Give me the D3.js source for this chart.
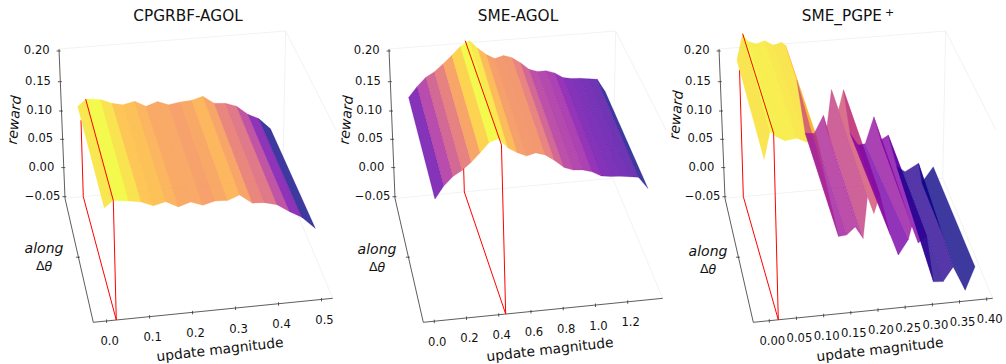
<!DOCTYPE html>
<html>
<head>
<meta charset="utf-8">
<script src="https://cdnjs.cloudflare.com/ajax/libs/d3/7.8.5/d3.min.js"></script>
<style>
body { margin: 0; background: #fff; }
text { font-family: "DejaVu Sans", sans-serif; fill: #111; }
</style>
</head>
<body>
<div id="chart-area"></div>
<script>
// values
var rewardTicks = [-0.05, 0.00, 0.05, 0.10, 0.15, 0.20];
var rewardTickLabels = ["\u22120.05", "0.00", "0.05", "0.10", "0.15", "0.20"];

// panel 1
var magnitudes1 = [0.001, 0.022, 0.058, 0.087, 0.115, 0.144, 0.173, 0.202, 0.230, 0.259, 0.288, 0.316, 0.345, 0.373, 0.402, 0.431, 0.459, 0.490];
var rewardsBack1 = [0.102, 0.113, 0.110, 0.102, 0.098, 0.102, 0.092, 0.098, 0.091, 0.094, 0.095, 0.100, 0.0865, 0.085, 0.078, 0.063, 0.054, 0.035];
var rewardsFront1 = [0.107, 0.116, 0.113, 0.110, 0.103, 0.107, 0.098, 0.103, 0.097, 0.101, 0.100, 0.106, 0.093, 0.092, 0.0875, 0.076, 0.0665, 0.049];
var ticks1 = [0.0, 0.1, 0.2, 0.3, 0.4, 0.5];
var tickLabels1 = ["0.0", "0.1", "0.2", "0.3", "0.4", "0.5"];

// panel 2
var magnitudes2 = [0.023, 0.080, 0.138, 0.195, 0.253, 0.310, 0.367, 0.425, 0.482, 0.540, 0.597, 0.654, 0.712, 0.769, 0.827, 0.884, 0.941, 0.999, 1.056, 1.114, 1.171, 1.228, 1.286, 1.343];
var rewardsBack2 = [0.117, 0.134, 0.148, 0.156, 0.168, 0.181, 0.195, 0.203, 0.189, 0.177, 0.169, 0.173, 0.168, 0.158, 0.146, 0.141, 0.141, 0.136, 0.127, 0.124, 0.123, 0.121, 0.119, 0.097];
var rewardsFront2 = [0.119, 0.136, 0.148, 0.155, 0.165, 0.177, 0.190, 0.194, 0.180, 0.172, 0.166, 0.169, 0.165, 0.156, 0.145, 0.140, 0.139, 0.135, 0.128, 0.126, 0.125, 0.123, 0.121, 0.104];
var ticks2 = [0.0, 0.2, 0.4, 0.6, 0.8, 1.0, 1.2];
var tickLabels2 = ["0.0", "0.2", "0.4", "0.6", "0.8", "1.0", "1.2"];

// panel 3, the folds are steep so both ends of a strip are read on their own
var magnitudesBack3 = [-0.006, 0.005, 0.016, 0.033, 0.049, 0.066, 0.082, 0.090, 0.113, 0.131, 0.149, 0.167, 0.174, 0.182, 0.197, 0.206, 0.221, 0.238, 0.252, 0.268, 0.283, 0.298, 0.317, 0.334, 0.361, 0.369, 0.391];
var magnitudesFront3 = [-0.002, 0.010, 0.021, 0.037, 0.059, 0.077, 0.089, 0.098, 0.112, 0.131, 0.146, 0.162, 0.176, 0.186, 0.197, 0.209, 0.226, 0.240, 0.259, 0.266, 0.277, 0.293, 0.303, 0.321, 0.340, 0.361, 0.380];
var rewardsBack3 = [0.180, 0.223, 0.209, 0.204, 0.208, 0.199, 0.203, 0.197, 0.137, 0.047, 0.045, 0.074, 0.052, 0.116, 0.081, 0.114, 0.040, 0.019, 0.020, 0.064, 0.024, 0.031, -0.023, -0.033, -0.021, -0.054, -0.029];
var rewardsFront3 = [0.174, 0.212, 0.204, 0.197, 0.199, 0.192, 0.195, 0.191, 0.128, 0.057, 0.058, 0.068, 0.051, 0.108, 0.084, 0.109, 0.052, 0.023, 0.043, 0.061, 0.037, 0.045, -0.019, -0.020, -0.001, -0.035, -0.004];
var ticks3 = [0.00, 0.05, 0.10, 0.15, 0.20, 0.25, 0.30, 0.35, 0.40];
var tickLabels3 = ["0.00", "0.05", "0.10", "0.15", "0.20", "0.25", "0.30", "0.35", "0.40"];

var panels = [
    { title: "CPGRBF-AGOL", dx: 0, ulim: [-0.031, 0.526], uBack: magnitudes1, uFront: magnitudes1,
      zBack: rewardsBack1, zFront: rewardsFront1, ticks: ticks1, labels: tickLabels1,
      red: { backFloor: 0.0158, frontFloor: 0.0225, backTop: 0.021, zBack: 0.113, zFront: 0.116, zHide: 0.078 },
      rewardPos: [15, 120], alongPos: [44, 249] },
    { title: "SME-AGOL", dx: 330, ulim: [-0.068, 1.417], uBack: magnitudes2, uFront: magnitudes2,
      zBack: rewardsBack2, zFront: rewardsFront2, ticks: ticks2, labels: tickLabels2,
      red: { backFloor: 0.405, frontFloor: 0.443, backTop: 0.398, zBack: 0.2034, zFront: 0.185, zHide: -0.01 },
      rewardPos: [17, 120], alongPos: [47, 250] },
    { title: "SME_PGPE", sup: "+", dx: 660, ulim: [-0.0294, 0.411], uBack: magnitudesBack3, uFront: magnitudesFront3,
      zBack: rewardsBack3, zFront: rewardsFront3, ticks: ticks3, labels: tickLabels3,
      red: { backFloor: 0.0077, frontFloor: 0.0166, backTop: 0.0053, zBack: 0.223, zFront: 0.209, zHide: 0.162 },
      rewardPos: [17, 115], alongPos: [48, 252] }
];

var width = 1006, height = 364;

var svg = d3.select("#chart-area")
    .append("svg")
    .attr("width", width)
    .attr("height", height)
    .style("display", "block");

// floor corners of the box, all panels share the same view
var backLeft = [65, 198.3], backRight = [282.7, 178.3];
var frontLeft = [93.3, 322.3], frontRight = [332.7, 298.3];
var wallTop = [59, 49], wallTopRight = [285.7, 31], sideEnd = [336, 130];

// px per unit of reward at the back and at the front of the box
var heightBack = 597, heightFront = 720;

var lerp = d3.interpolateNumber;
var line = d3.line();

panels.forEach(function(p) {
    var g = svg.append("g")
        .attr("transform", "translate(" + p.dx + ",0)");

    var t = d3.scaleLinear().domain(p.ulim).range([0, 1]);

    function floorPoint(u, v) {
        var a = t(u);
        var xb = lerp(backLeft[0], backRight[0])(a), yb = lerp(backLeft[1], backRight[1])(a);
        var xf = lerp(frontLeft[0], frontRight[0])(a), yf = lerp(frontLeft[1], frontRight[1])(a);
        return [lerp(xb, xf)(v), lerp(yb, yf)(v)];
    }

    // screen point of (magnitude, along, reward), uprights lean a bit in the view
    function project(u, v, z, lean) {
        var f = floorPoint(u, v);
        var h = (z + 0.05) * lerp(heightBack, heightFront)(v);
        var l = lean === undefined ? lerp(0.04 * t(u), -0.025)(v) : lean;
        return [f[0] + l * h, f[1] - h];
    }

    // faint box lines
    g.append("g").attr("class", "box")
        .selectAll("path")
        .data([[wallTop, wallTopRight], [wallTopRight, sideEnd], [wallTopRight, backRight], [backLeft, backRight], [backRight, frontRight]])
        .enter()
        .append("path")
        .attr("d", line)
        .attr("fill", "none")
        .attr("stroke", "#efefef")
        .attr("stroke-width", 0.8);

    // dark axis lines
    g.append("g").attr("class", "axes")
        .selectAll("path")
        .data([[wallTop, backLeft], [backLeft, frontLeft], [frontLeft, frontRight]])
        .enter()
        .append("path")
        .attr("d", line)
        .attr("fill", "none")
        .attr("stroke", "#333")
        .attr("stroke-width", 0.8);

    // reward axis
    var yWall = d3.scaleLinear().domain(rewardTicks).range([196.7, 167.6, 139.3, 111, 81.7, 51]);
    var xWall = d3.scaleLinear().domain([backLeft[1], wallTop[1]]).range([backLeft[0], wallTop[0]]);
    rewardTicks.forEach(function(d, i) {
        var y = yWall(d), x = xWall(y);
        g.append("line")
            .attr("x1", x - 2.5).attr("x2", x + 1.5)
            .attr("y1", y).attr("y2", y)
            .attr("stroke", "#333").attr("stroke-width", 0.8);
        g.append("text")
            .attr("x", x - 22.3)
            .attr("y", y - 0.5)
            .attr("text-anchor", "middle")
            .attr("dominant-baseline", "middle")
            .attr("font-size", "11.6px")
            .text(rewardTickLabels[i]);
    });

    // along axis has one tick
    var alongTick = [lerp(backLeft[0], frontLeft[0])(0.475), lerp(backLeft[1], frontLeft[1])(0.475)];
    g.append("line")
        .attr("x1", alongTick[0] - 2.5).attr("x2", alongTick[0] + 1.5)
        .attr("y1", alongTick[1]).attr("y2", alongTick[1])
        .attr("stroke", "#333").attr("stroke-width", 0.8);

    // magnitude axis
    var xAxis = g.append("g").attr("class", "x-axis")
        .selectAll("g")
        .data(p.ticks)
        .enter()
        .append("g")
        .attr("transform", function(d) {
            var f = floorPoint(d, 1);
            return "translate(" + f[0] + "," + f[1] + ")";
        });
    xAxis.append("line")
        .attr("y1", -1.5).attr("y2", 2)
        .attr("stroke", "#333").attr("stroke-width", 0.8);
    xAxis.append("text")
        .attr("x", 3)
        .attr("y", 21)
        .attr("text-anchor", "middle")
        .attr("dominant-baseline", "middle")
        .attr("font-size", "11.6px")
        .text(function(d, i) { return p.labels[i]; });

    // red back upright goes in first, the surface covers its top
    var r = p.red;
    g.append("path")
        .attr("class", "red")
        .attr("d", line([project(r.backFloor, 0, -0.05), project(r.backFloor, 0, r.zHide, -0.03)]))
        .attr("fill", "none").attr("stroke", "#f00").attr("stroke-width", 1);

    // surface strips
    var strips = d3.range(p.zBack.length - 1).map(function(i) {
        return {
            pts: [
                project(p.uBack[i], 0, p.zBack[i]),
                project(p.uBack[i + 1], 0, p.zBack[i + 1]),
                project(p.uFront[i + 1], 1, p.zFront[i + 1]),
                project(p.uFront[i], 1, p.zFront[i])
            ],
            z: d3.mean([p.zBack[i], p.zBack[i + 1], p.zFront[i], p.zFront[i + 1]])
        };
    });
    var color = d3.scaleSequential(d3.interpolatePlasma)
        .domain(d3.extent(strips, function(d) { return d.z; }));

    // thin stroke in the same colour closes the hairlines between strips
    g.append("g").attr("class", "surface")
        .selectAll("path")
        .data(strips)
        .enter()
        .append("path")
        .attr("d", function(d) { return line(d.pts) + "Z"; })
        .attr("fill", function(d) { return color(d.z); })
        .attr("fill-opacity", 0.8)
        .attr("stroke", function(d) { return color(d.z); })
        .attr("stroke-opacity", 0.4)
        .attr("stroke-width", 0.5);

    // red frame on top
    g.append("path")
        .attr("class", "red")
        .attr("d", line([
            project(r.backFloor, 0, -0.05),
            project(r.frontFloor, 1, -0.05),
            project(r.frontFloor, 1, r.zFront),
            project(r.backTop, 0, r.zBack)
        ]))
        .attr("fill", "none").attr("stroke", "#f00").attr("stroke-width", 1);

    // labels
    var title = g.append("text")
        .attr("x", 188)
        .attr("y", 20.5)
        .attr("text-anchor", "middle")
        .attr("font-size", "15.3px")
        .text(p.title);
    if (p.sup) {
        title.append("tspan")
            .attr("dx", 3)
            .attr("dy", -5)
            .attr("font-size", "11px")
            .text(p.sup);
    }

    g.append("text")
        .attr("transform", "translate(220,350) rotate(-6.5)")
        .attr("text-anchor", "middle")
        .attr("dominant-baseline", "middle")
        .attr("font-size", "13.8px")
        .text("update magnitude");

    g.append("text")
        .attr("transform", "translate(" + p.rewardPos[0] + "," + p.rewardPos[1] + ") rotate(-85)")
        .attr("text-anchor", "middle")
        .attr("dominant-baseline", "middle")
        .attr("font-size", "14px")
        .attr("font-style", "italic")
        .text("reward");

    g.append("text")
        .attr("x", p.alongPos[0])
        .attr("y", p.alongPos[1])
        .attr("text-anchor", "middle")
        .attr("dominant-baseline", "middle")
        .attr("font-size", "14px")
        .attr("font-style", "italic")
        .text("along");

    var dtheta = g.append("text")
        .attr("x", p.alongPos[0])
        .attr("y", p.alongPos[1] + 17.5)
        .attr("text-anchor", "middle")
        .attr("dominant-baseline", "middle")
        .attr("font-size", "12.5px")
        .text("\u0394");
    dtheta.append("tspan")
        .attr("font-style", "italic")
        .text("\u03b8");
});
</script>
</body>
</html>
